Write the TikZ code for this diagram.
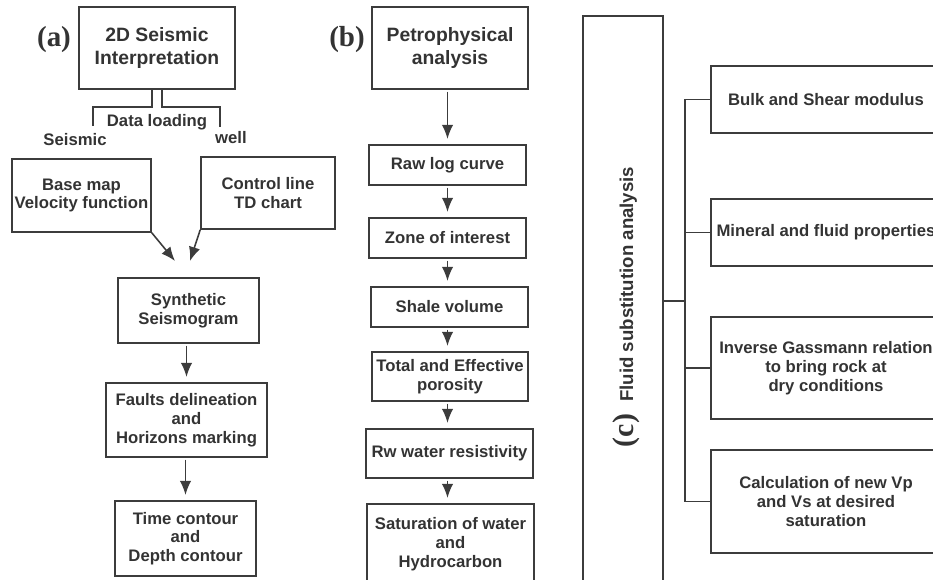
\documentclass[tikz,border=0pt]{standalone}
\usepackage{fontspec}
\setmainfont{Liberation Sans}
\newfontfamily\tagfont{Liberation Serif}
\usetikzlibrary{calc,arrows.meta}
\definecolor{ln}{HTML}{3C3C3C}
\definecolor{txt}{HTML}{333333}

\begin{document}
\begin{tikzpicture}[x=0.02cm, y=-0.02cm, line width=0.9pt,
  every node/.style={text=txt, font=\fontsize{9.5}{10.7}\selectfont\bfseries},
  box/.style={draw=ln, align=center, inner sep=0pt},
  head/.style={box, font=\fontsize{11}{12.6}\selectfont\bfseries},
  tag/.style={font=\fontsize{16.5}{18}\selectfont\tagfont\bfseries},
  arr/.style={-{Latex[length=8pt,width=6.5pt]}, draw=ln, shorten <=1pt, shorten >=3pt}]
\useasboundingbox (0,0) rectangle (933,580);
\clip (0,0) rectangle (933,580);

% (a) seismic interpretation
\node (a) at (54,40) [tag] {(a)};
\node (seis) at (157,48) [head, minimum width=3.12cm, minimum height=1.64cm] {2D Seismic\\Interpretation};
\coordinate (fkL) at (93,126);
\coordinate (fkR) at (220,127);
\draw[ln] ([xshift=-0.1cm]seis.south) -- ++(0,17) -| (fkL);
\draw[ln] ([xshift=0.1cm]seis.south) -- ++(0,17) -| (fkR);
\node (dl) at (157,122) {Data loading};
\node (sm) at (75,140) {Seismic};
\node (wl) at (231,138) {well};

\node (base) at (81.5,195.5) [box, minimum width=2.78cm, minimum height=1.46cm] {Base map\\Velocity function};
\node (ctrl) at (268,193) [box, minimum width=2.68cm, minimum height=1.44cm] {Control line\\TD chart};
\node (synth) at (188.5,310.5) [box, minimum width=2.82cm, minimum height=1.3cm] {Synthetic\\Seismogram};
\coordinate (tipL) at (175,261);
\coordinate (tipR) at (190,261);
\draw[arr, shorten <=0pt, shorten >=0pt] (base.south east) -- (tipL);
\draw[arr, shorten <=0pt, shorten >=0pt] (ctrl.south west) -- (tipR);

\node (fault) at (186.5,420) [box, minimum width=3.22cm, minimum height=1.48cm] {Faults delineation\\and\\Horizons marking};
\node (cont) at (185.5,538.5) [box, minimum width=2.82cm, minimum height=1.5cm] {Time contour\\and\\Depth contour};
\draw[arr] (synth.south -| fault.center) -- (fault.north);
\draw[arr] (fault.south -| cont.center) -- (cont.north);

% (b) petrophysics
\node (b) at (347,40) [tag] {(b)};
\node (petro) at (450,48) [head, minimum width=3.12cm, minimum height=1.64cm] {Petrophysical\\analysis};
\node (raw) at (447.5,165) [box, minimum width=3.14cm, minimum height=0.8cm] {Raw log curve};
\node (zone) at (447.5,238) [box, minimum width=3.14cm, minimum height=0.8cm] {Zone of interest};
\node (shale) at (449.5,307) [box, minimum width=3.14cm, minimum height=0.8cm] {Shale volume};
\node (poro) at (450,376.5) [box, minimum width=3.12cm, minimum height=0.98cm] {Total and Effective\\porosity};
\node (rw) at (449.5,453.5) [box, minimum width=3.34cm, minimum height=0.98cm] {Rw water resistivity};
\node (sat) at (450.5,544) [box, minimum width=3.34cm, minimum height=1.6cm] {Saturation of water\\and\\Hydrocarbon};
\foreach \u/\v in {petro/raw, raw/zone, zone/shale, shale/poro, poro/rw, rw/sat}
  \draw[arr] (\u.south -| raw.center) -- (raw.center |- \v.north);

% (c) fluid substitution
\node (fsa) at (623,308) [box, minimum width=1.6cm, minimum height=11.68cm] {};
\node (fsat) at (626,307) [rotate=90, font=\fontsize{10.6}{12}\selectfont\bfseries] {{\tagfont\fontsize{17}{18}\selectfont (c)}\hspace{7pt}Fluid substitution analysis};
\node (bulk) at (826,99.5) [box, minimum width=4.6cm, minimum height=1.34cm] {Bulk and Shear modulus};
\node (mine) at (826,232.5) [box, minimum width=4.6cm, minimum height=1.34cm] {Mineral and fluid properties};
\node (gass) at (826,368) [box, minimum width=4.6cm, minimum height=2.04cm] {Inverse Gassmann relation\\to bring rock at\\dry conditions};
\node (calc) at (826,501.5) [box, minimum width=4.6cm, minimum height=2.06cm] {Calculation of new Vp\\and Vs at desired\\saturation};
\coordinate (trunk) at (685,301);
\draw[ln] (fsa.east |- trunk) -- (trunk);
\draw[ln] (bulk.west) -| (trunk) |- (calc.west);
\foreach \n in {mine, gass}
  \draw[ln] (\n.west) -- (\n.west -| trunk);
\end{tikzpicture}
\end{document}
